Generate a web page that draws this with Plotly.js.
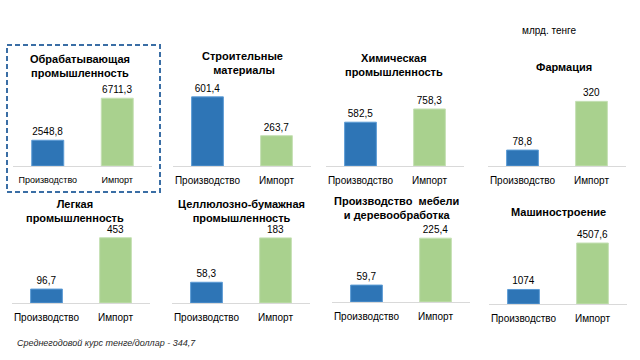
<!DOCTYPE html>
<html><head><meta charset="utf-8">
<script src="https://cdn.plot.ly/plotly-3.0.1.min.js"></script>
<style>html,body{margin:0;padding:0;background:#fff}#chart{width:640px;height:360px}</style>
</head><body><div id="chart"></div>
<script>
const categories = ["Производство", "Импорт"];
const titles = [
  "Обрабатывающая<br>промышленность",
  "Строительные<br> материалы",
  "Химическая<br>промышленность",
  "Фармация",
  "Легкая<br>промышленность",
  "Целлюлозно-бумажная<br>промышленность",
  "Производство  мебели<br>и деревообработка",
  "Машиностроение"
];
const production = [2548.8, 601.4, 582.5, 78.8, 96.7, 58.3, 59.7, 1074];
const imports = [6711.3, 263.7, 758.3, 320, 453, 183, 225.4, 4507.6];
const unitLabel = "млрд. тенге";
const footnote = "Среднегодовой курс тенге/доллар - 344,7";

// layout geometry (pixels)
const W = 640, H = 360;
const xDom = [[13,152],[173,311],[326,464],[488,626],[12,150],[172,310],[332,470],[489,627]];
const base = [166,166,166,166,303,303,302,304];
const plotH = 100;
const yMax = [9900, 870, 1330, 495, 694, 281, 353, 7390];
const titlePos = [[80,66],[242,63],[394,64.5],[564,67],[75,211],[241,211],[396,208],[558,212]];
const labelSize = [9, 10, 10, 10, 10, 10, 10, 10];

const fmt = v => String(v).replace('.', ',');
const FONT = "Liberation Sans, Arial, sans-serif";

const data = [];
const layout = {
  width: W, height: H, margin: {l:0,r:0,t:0,b:0},
  paper_bgcolor: "#fff", plot_bgcolor: "rgba(0,0,0,0)",
  showlegend: false,
  font: {family: FONT, color: "#000"},
  annotations: [], shapes: []
};

for (let i = 0; i < 8; i++) {
  const n = i === 0 ? "" : String(i + 1);
  const vals = [production[i], imports[i]];
  data.push({
    type: "bar", x: categories, y: vals,
    xaxis: "x" + n, yaxis: "y" + n,
    marker: {color: ["#2E75B6", "#A9D18E"], line: {color: ["#5B9BD5", "#C5E0B4"], width: 1}},
    width: 0.46,
    text: vals.map(fmt), textposition: "outside", cliponaxis: false,
    textfont: {family: FONT, size: 10, color: "#000"},
    hoverinfo: "none"
  });
  layout["xaxis" + n] = {
    domain: [xDom[i][0] / W, xDom[i][1] / W],
    anchor: "y" + n, type: "category", range: [-0.5, 1.5],
    showline: true, linecolor: "#D9D9D9", linewidth: 1,
    showgrid: false, zeroline: false, ticks: "",
    ticklabelstandoff: 5,
    tickfont: {family: FONT, size: labelSize[i], color: "#000"},
    fixedrange: true
  };
  layout["yaxis" + n] = {
    domain: [1 - base[i] / H, 1 - (base[i] - plotH) / H],
    anchor: "x" + n, range: [0, yMax[i]],
    visible: false, showgrid: false, zeroline: false, fixedrange: true
  };
  layout.annotations.push({
    xref: "paper", yref: "paper", x: titlePos[i][0] / W, y: 1 - titlePos[i][1] / H,
    xanchor: "center", yanchor: "middle", showarrow: false,
    text: "<b>" + titles[i] + "</b>",
    font: {family: FONT, size: 11, color: "#000"}
  });
}
layout.annotations.push({
  xref: "paper", yref: "paper", x: 549 / W, y: 1 - 30 / H,
  xanchor: "center", yanchor: "middle", showarrow: false,
  text: unitLabel, font: {family: FONT, size: 10, color: "#000"}
});
layout.annotations.push({
  xref: "paper", yref: "paper", x: 15 / W, y: 1 - 343 / H,
  xanchor: "left", yanchor: "middle", showarrow: false,
  text: "<i>" + footnote + "</i>", font: {family: FONT, size: 9, color: "#262626"}
});
layout.shapes.push({
  type: "rect", xref: "paper", yref: "paper",
  x0: 7 / W, x1: 160 / W, y0: 1 - 192 / H, y1: 1 - 45 / H,
  line: {color: "#3A6EA5", width: 2, dash: "5px,3px"}, fillcolor: "rgba(0,0,0,0)"
});

Plotly.newPlot("chart", data, layout, {displayModeBar: false, staticPlot: true});
</script></body></html>
